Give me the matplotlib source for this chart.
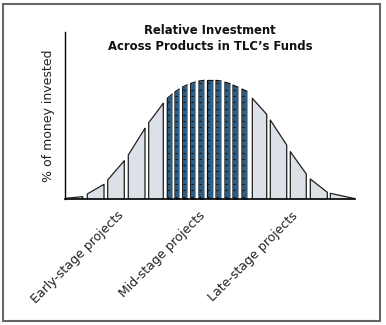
import numpy as np
import matplotlib.pyplot as plt
from matplotlib.patches import Rectangle

# bell curve (x along the axis, height of the curve)
curve_x = [1, 18, 22.6, 39.3, 43, 59.6, 63.6, 80.3, 84, 98.6, 102.6, 110.3, 118.3,
           126.3, 134.3, 142.3, 148.3, 156.3, 164.3, 172.3, 182.3, 187.6, 202,
           205.6, 222, 225.6, 241.6, 245.6, 262.6, 265.6, 290.3]
curve_h = [1.0, 2.6, 5.3, 15, 19.3, 38.6, 44.3, 71, 76.6, 96, 101, 107.5, 112.5,
           116, 118.3, 119.3, 119.3, 118.3, 116, 112.5, 108, 101, 85,
           79.3, 54.3, 47.6, 25.3, 20.3, 7, 6, 0.6]

# early / late stage slices (light)
light_start = [1, 22.6, 43, 63.6, 84, 187.6, 205.6, 225.6, 245.6, 265.6]
light_end = [18, 39.3, 59.6, 80.3, 98.6, 202, 222, 241.6, 262.6, 290.3]

# mid stage slices (dark)
dark_start = [102.6, 110.3, 118, 126, 134.3, 142.3, 151.3, 160.3, 168.3, 177.3]
dark_end = [107.6, 114.6, 122.6, 130.6, 139.3, 148, 156.3, 165.3, 173.3, 182.3]

stages = ['Early-stage projects', 'Mid-stage projects', 'Late-stage projects']
stage_pos = [52, 134, 226]

light_col = '#dbe1e6'
dark_col = '#2c5d84'

fig = plt.figure(figsize=(3.86, 3.25), dpi=100)
ax = fig.add_axes([0.1676, 0.3868, 0.7521, 0.5147])


def slice_shape(a, b):
    xs = np.linspace(a, b, 25)
    ys = np.interp(xs, curve_x, curve_h)
    return xs, ys


for a, b in zip(light_start, light_end):
    xs, ys = slice_shape(a, b)
    ax.fill_between(xs, 0, ys, color=light_col, lw=0)
    ax.plot([a, *xs, b], [0, *ys, 0], color='#1e1e1e', lw=0.9)

for a, b in zip(dark_start, dark_end):
    xs, ys = slice_shape(a, b)
    ax.fill_between(xs, 0, ys, color=dark_col, lw=0)
    ax.plot([a, *xs], [0, *ys], color='#111111', lw=0.9)
    ax.plot([b, b], [0, ys[-1]], color='#9aa0a6', lw=0.6)
    ticks = np.arange(2.6, ys.min(), 6.3)
    ax.hlines(ticks, a, a + 2.2, color='#111111', lw=0.8)

ax.set_xlim(0, 290.3)
ax.set_ylim(0, 167.3)
for s in ['top', 'right']:
    ax.spines[s].set_visible(False)
ax.spines['left'].set_linewidth(1.0)
ax.spines['bottom'].set_linewidth(1.2)
ax.set_yticks([])
ax.set_xticks(stage_pos)
ax.set_xticklabels(stages, rotation=45, ha='right', rotation_mode='anchor',
                   fontsize=9, color='#222222')
ax.tick_params(axis='x', length=0, pad=7)
ax.set_ylabel('% of money invested', fontsize=9, color='#222222', labelpad=7)

fig.text(0.544, 0.882, 'Relative Investment\nAcross Products in TLC\u2019s Funds',
         ha='center', va='center', fontsize=8.4, fontweight='bold',
         linespacing=1.3, color='#111111')

fig.patches.append(Rectangle((3 / 386, 1 - 320.7 / 325), 377 / 386, 316.7 / 325,
                             transform=fig.transFigure, fill=False,
                             edgecolor='#666666', lw=1.5))

fig.savefig('out.png', dpi=100)
